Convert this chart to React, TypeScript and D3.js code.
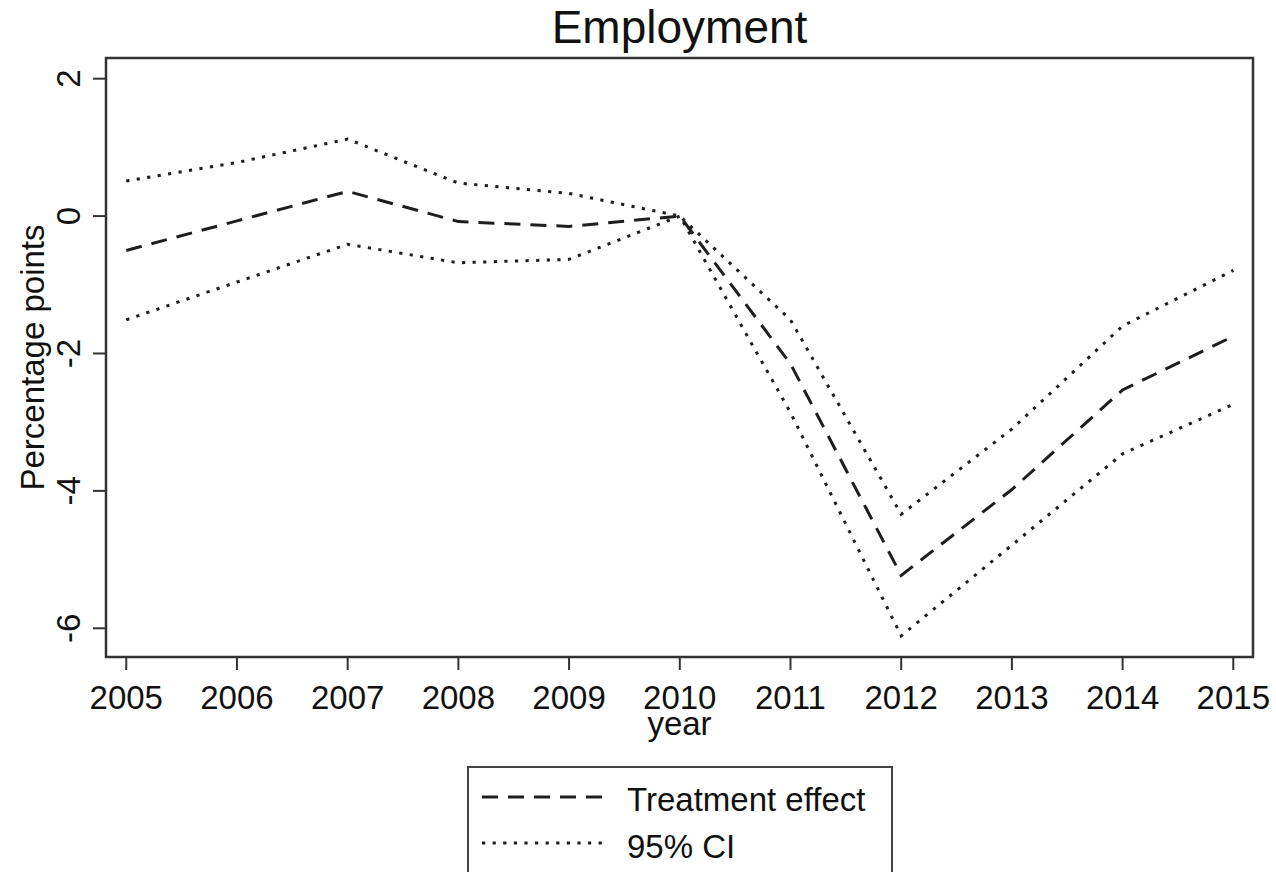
import React from "react";
import * as d3 from "d3";

const years = [2005, 2006, 2007, 2008, 2009, 2010, 2011, 2012, 2013, 2014, 2015];
const effect = [-0.5, -0.07, 0.36, -0.08, -0.15, 0, -2.15, -5.23, -3.98, -2.53, -1.75];
const upper = [0.51, 0.78, 1.12, 0.48, 0.33, 0, -1.51, -4.34, -3.1, -1.6, -0.79];
const lower = [-1.51, -0.96, -0.41, -0.68, -0.63, 0, -2.86, -6.11, -4.79, -3.46, -2.74];
const yTicks = [2, 0, -2, -4, -6];
const xTicks = years;
const title = "Employment";
const xLabel = "year";
const yLabel = "Percentage points";
const legendLabels = ["Treatment effect", "95% CI"];

const W = 1276;
const H = 872;
const FONT = "'Liberation Sans', Arial, Helvetica, sans-serif";

export default function App() {
  const left = 106, right = 1253, top = 58, bottom = 657;
  const x = d3.scaleLinear().domain([2004.817, 2015.178]).range([left, right]);
  const y = d3.scaleLinear().domain([-6.418, 2.301]).range([bottom, top]);
  const line = d3
    .line<number>()
    .x((_, i) => x(years[i]))
    .y((d) => y(d));

  const dash = "16,10";
  const dot = "3.2,7.4";
  const ink = "#1e1e1e";

  return (
    <svg
      width={W}
      height={H}
      style={{ position: "absolute", left: 0, top: 0, background: "#fff" }}
      fontFamily={FONT}
    >
      <rect x={0} y={0} width={W} height={H} fill="#fff" />
      {/* title */}
      <text x={(left + right) / 2} y={43} textAnchor="middle" fontSize={46} fill="#111">
        {title}
      </text>
      {/* frame */}
      <rect
        x={left}
        y={top}
        width={right - left}
        height={bottom - top}
        fill="none"
        stroke="#333"
        strokeWidth={2.5}
      />
      {/* y ticks */}
      {yTicks.map((t) => (
        <g key={"y" + t}>
          <line x1={left} x2={left - 13} y1={y(t)} y2={y(t)} stroke="#333" strokeWidth={2} />
          <text
            transform={`translate(80,${y(t)}) rotate(-90)`}
            textAnchor="middle"
            fontSize={33}
            fill="#111"
          >
            {t}
          </text>
        </g>
      ))}
      {/* x ticks */}
      {xTicks.map((t) => (
        <g key={"x" + t}>
          <line x1={x(t)} x2={x(t)} y1={bottom} y2={bottom + 13} stroke="#333" strokeWidth={2} />
          <text x={x(t)} y={709} textAnchor="middle" fontSize={33} fill="#111">
            {t}
          </text>
        </g>
      ))}
      {/* axis labels */}
      <text x={(left + right) / 2} y={735} textAnchor="middle" fontSize={33} fill="#111">
        {xLabel}
      </text>
      <text
        transform={`translate(44,${(top + bottom) / 2}) rotate(-90)`}
        textAnchor="middle"
        fontSize={33}
        fill="#111"
      >
        {yLabel}
      </text>
      {/* series */}
      <path d={line(upper) || ""} fill="none" stroke={ink} strokeWidth={3} strokeDasharray={dot} />
      <path d={line(lower) || ""} fill="none" stroke={ink} strokeWidth={3} strokeDasharray={dot} />
      <path d={line(effect) || ""} fill="none" stroke={ink} strokeWidth={3} strokeDasharray={dash} />
      {/* legend */}
      <rect x={468} y={767} width={424} height={120} fill="#fff" stroke="#444" strokeWidth={2} />
      <line x1={482} x2={607} y1={797} y2={797} stroke={ink} strokeWidth={3} strokeDasharray={dash} />
      <line x1={482} x2={603} y1={843} y2={843} stroke={ink} strokeWidth={3} strokeDasharray={dot} />
      <text x={627} y={811} fontSize={33} fill="#111">
        {legendLabels[0]}
      </text>
      <text x={627} y={858} fontSize={33} fill="#111">
        {legendLabels[1]}
      </text>
    </svg>
  );
}
